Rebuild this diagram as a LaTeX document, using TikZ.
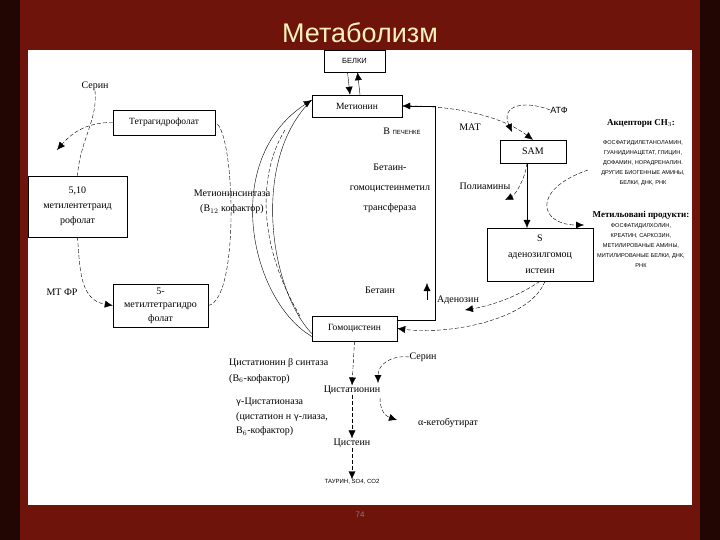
\documentclass[tikz,border=0pt]{standalone}
\usepackage{fontspec}
\setmainfont{Liberation Serif}
\newfontfamily\sansf{Liberation Sans}
\newfontfamily\djv{DejaVu Sans}
\usetikzlibrary{arrows.meta}
\definecolor{curtain}{RGB}{110,20,10}
\definecolor{titlec}{RGB}{250,240,190}
\begin{document}
\begin{tikzpicture}[x=1pt,y=-1pt,
  bx/.style={draw,thin,fill=white,inner sep=0pt,align=center,font=\fontsize{9.5}{12}\selectfont},
  lb/.style={inner sep=0pt,align=center,font=\fontsize{10}{12}\selectfont},
  sm/.style={inner sep=0pt,align=center,font=\sansf\fontsize{5.6}{10}\selectfont},
  dl/.style={thin,dash pattern=on 4pt off 2pt},
  ar/.style={-{Latex[length=8pt,width=7pt]}}]
\useasboundingbox (0,0) rectangle (720,540);
\fill[curtain] (0,0) rectangle (720,540);
\fill[black!70!curtain] (0,0) rectangle (20,540);
\fill[black!70!curtain] (700,0) rectangle (720,540);
\fill[white] (28,50) rectangle (692,505);
\node[text=titlec,font=\sansf\fontsize{27}{30}\selectfont] (title) at (360,33) {Метаболизм};
\node[text=gray,font=\sansf\fontsize{8}{9}\selectfont] (pg) at (360,515) {74};
% boxes
\node[bx,minimum width=61,minimum height=22,font=\sansf\fontsize{7.5}{9}\selectfont] (bel) at (354.5,61) {БЕЛКИ};
\node[bx,minimum width=90,minimum height=22] (met) at (357,106) {Метионин};
\node[bx,minimum width=102,minimum height=25] (thf) at (164,122.5) {Тетрагидрофолат};
\node[bx,minimum width=99,minimum height=61,font=\fontsize{10}{15}\selectfont] (mthf) at (77.5,206.5) {5,10\\метилентетраид\\рофолат};
\node[bx,minimum width=95,minimum height=43,font=\fontsize{10}{13.5}\selectfont] (mtf) at (160.5,305.5) {5-\\метилтетрагидро\\фолат};
\node[bx,minimum width=85,minimum height=25] (hcy) at (354.5,328.5) {Гомоцистеин};
\node[bx,minimum width=66,minimum height=23,font=\fontsize{10}{12}\selectfont] (sam) at (533,151.5) {SAM};
\node[bx,minimum width=106,minimum height=53,font=\fontsize{10}{16}\selectfont] (sah) at (540,254.5) {S\\аденозилгомоц\\истеин};
% labels
\node[lb] (ser1) at (95,86) {Серин};
\node[lb] (mtfr) at (62,292) {МТ ФР};
\node[lb,font=\fontsize{10}{15}\selectfont] (msyn) at (232,202) {Метионинсинтаза\\(B$_{12}$ кофактор)};
\node[lb] (liv) at (402,131) {В {\sansf\fontsize{6}{7}\selectfont ПЕЧЕНКЕ}};
\node[lb] (mat) at (470,127) {МАТ};
\node[lb,font=\sansf\fontsize{9}{10}\selectfont] (atp) at (559,110) {АТФ};
\node[lb,font=\fontsize{10}{20}\selectfont] (bhmt) at (390,188) {Бетаин-\\гомоцистеинметил\\трансфераза};
\node[lb] (pol) at (485,186) {Полиамины};
\node[lb] (bet) at (380,290) {Бетаин};
\node[lb] (ade) at (458,300) {Аденозин};
\node[lb,font=\bfseries\fontsize{9}{10}\selectfont] (acc) at (641,123) {Акцептори CH$_3$:};
\node[sm] (accl) at (643,163) {ФОСФАТИДИЛЕТАНОЛАМИН,\\ГУАНИДИНАЦЕТАТ, ГЛИЦИН,\\ДОФАМИН, НОРАДРЕНАЛИН.\\ДРУГИЕ БИОГЕННЫЕ АМИНЫ,\\БЕЛКИ, ДНК, РНК};
\node[lb,font=\bfseries\fontsize{9}{10}\selectfont] (mp) at (641,215) {Метильовані продукти:};
\node[sm] (mpl) at (641,246) {ФОСФАТИДИЛХОЛИН,\\КРЕАТИН, САРКОЗИН,\\МЕТИЛИРОВАНЫЕ АМИНЫ,\\МИТИЛИРОВАНЫЕ БЕЛКИ, ДНК,\\РНК};
\node[lb,anchor=west] (cbs) at (229,363) {Цистатионин β синтаза};
\node[lb,anchor=west] (b6a) at (229,379) {(B$_6$-кофактор)};
\node[lb] (ser2) at (423,357) {Серин};
\node[lb] (cth) at (352,390) {Цистатионин};
\node[lb,anchor=west,align=left,font=\fontsize{10}{14.5}\selectfont] (cgl) at (236,417) {{\djv\fontsize{8.5}{9}\selectfont γ}-Цистатионаза\\(цистатион н {\djv\fontsize{8.5}{9}\selectfont γ}-лиаза,\\B$_6$-кофактор)};
\node[lb] (akb) at (448,423) {α-кетобутират};
\node[lb] (cys) at (352,443) {Цистеин};
\node[lb,font=\sansf\fontsize{6}{7}\selectfont] (tau) at (352,482) {ТАУРИН, SO4, CO2};
% coordinates
\coordinate (p1) at (57,150);
\coordinate (pol2) at (505,200);
\coordinate (ade2) at (465,310);
\coordinate (akb2) at (397,420);
\coordinate (metp) at (584,225);
\coordinate (samb) at (527,163);
\coordinate (saht) at (527,228);
% connectors
\draw[ar] ([xshift=-7pt]bel.south) -- ([xshift=-7pt]met.north);
\draw[ar] ([xshift=3pt]met.north) -- ([xshift=3pt]bel.south);
\draw[dl,ar] (thf.west) .. controls (85,122) and (70,135) .. (p1);
\draw[dl] (ser1.south) .. controls (98,120) and (80,140) .. (mthf.north);
\draw[dl,ar] (mthf.south) .. controls (80,270) and (80,300) .. (mtf.west);
\draw[dl] (mtf.east) .. controls (240,300) and (235,130) .. (thf.east);
\draw[thin,ar] ([yshift=-8pt]hcy.west) .. controls (250,300) and (220,160) .. ([yshift=6pt]met.west);
\draw[thin] ([yshift=-5pt]hcy.west) .. controls (270,290) and (250,160) .. ([yshift=6pt]met.west);
\draw[dl] (285,130) .. controls (260,170) and (255,240) .. (300,316);
\draw[ar] (435,106) -- (met.east);
\draw (435,106) -- (435,320) -- (hcy.east |- 0,320);
\draw[ar] (427,300) -- (427,283);
\draw[dl,ar] (met.east) .. controls (450,105) and (500,115) .. (sam.north);
\draw[dl,ar] (atp.west) .. controls (525,100) and (500,105) .. (512,132);
\draw[ar] (samb) -- (saht);
\draw[dl,ar] (samb) .. controls (525,180) and (515,195) .. (pol2);
\draw[dl,ar] (588,170) .. controls (530,190) and (540,225) .. (metp);
\draw[dl,ar] (sah.south) .. controls (520,295) and (495,305) .. (ade2);
\draw[dl,ar] ([xshift=5pt]sah.south) .. controls (530,320) and (450,335) .. (hcy.east);
\draw[dl,ar] (hcy.south) -- (cth.north);
\draw[dl,ar] (ser2.west) .. controls (390,355) and (378,365) .. (378,383);
\draw[dl,ar] (cth.south) -- (cys.north);
\draw[dl,ar] (380,398) .. controls (380,410) and (385,416) .. (akb2);
\draw[dl,ar] (cys.south) -- (tau.north);
\end{tikzpicture}
\end{document}
